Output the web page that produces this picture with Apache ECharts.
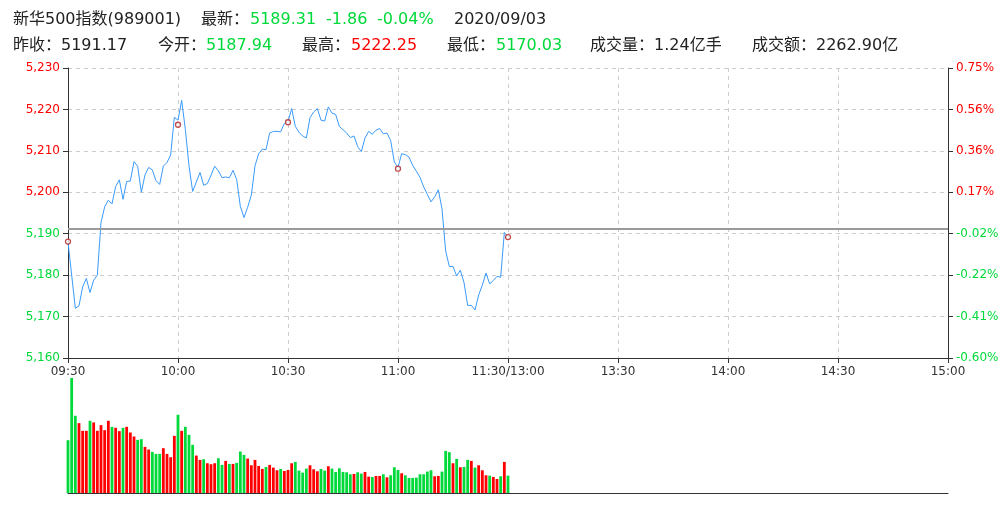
<!DOCTYPE html>
<html>
<head>
<meta charset="utf-8">
<script src="https://cdn.jsdelivr.net/npm/echarts@6/dist/echarts.min.js"></script>
<style>
html,body{margin:0;padding:0;background:#fff;}
#chart{width:1008px;height:516px;}
</style>
</head>
<body>
<div id="chart"></div>
<script>
const prevClose = 5191.17;
const tickLabels = ['09:30','10:00','10:30','11:00','11:30/13:00','13:30','14:00','14:30','15:00'];
// minute closes 09:30 .. 11:30
const prices = [
5188.0,5180.0,5172.0,5172.6,5177.2,5179.2,5175.8,5178.8,5180.0,5192.7,
5196.5,5198.1,5197.2,5201.4,5203.0,5198.3,5202.6,5202.7,5207.4,5206.3,
5200.0,5204.2,5206.0,5205.4,5202.8,5201.9,5206.3,5207.2,5209.0,5218.1,
5217.4,5222.2,5215.2,5206.4,5200.2,5202.5,5204.8,5201.7,5202.1,5204.1,
5206.3,5205.2,5203.5,5203.7,5203.5,5205.3,5203.1,5196.6,5193.9,5196.4,
5199.3,5206.4,5209.3,5210.4,5210.3,5214.3,5214.7,5214.7,5214.6,5216.6,
5217.0,5220.2,5215.9,5214.5,5213.6,5213.1,5218.0,5219.4,5220.2,5217.4,
5217.2,5220.6,5219.1,5218.8,5215.9,5215.1,5214.3,5213.2,5213.6,5211.0,
5209.8,5213.1,5214.7,5214.0,5215.0,5215.4,5214.1,5214.3,5212.5,5207.3,
5206.0,5209.3,5209.1,5208.5,5206.5,5205.1,5203.6,5201.3,5199.5,5197.7,
5198.9,5200.6,5196.0,5185.8,5182.1,5182.1,5179.8,5181.2,5178.2,5172.7,
5172.7,5171.6,5175.2,5177.6,5180.5,5177.9,5178.7,5179.7,5179.5,5190.3,
5189.31
];
// minute volumes (万手)
const volumes = [
158,344,231,209,186,186,216,211,186,203,
188,216,198,195,185,195,198,181,169,159,
161,138,130,123,117,117,134,117,107,171,
234,186,198,174,144,112,99,101,89,86,
89,104,84,96,87,87,90,124,114,103,
83,99,81,72,78,84,76,68,72,66,
69,89,93,67,61,73,83,71,65,72,
67,80,73,63,74,63,62,56,57,62,
58,63,49,48,51,51,56,47,53,77,
69,59,53,45,45,46,56,56,64,68,
50,51,64,126,122,89,102,77,78,99,
96,76,83,68,53,52,48,42,50,93,
52
];
const markerMinutes = [0,30,60,90,120];
const markerPrices = [5188.1,5216.3,5216.9,5205.7,5189.2];

const RED = '#ff0000', GREEN = '#00d93a', DARK = '#222';
const FONT = '"DejaVu Sans","Noto Sans CJK SC",sans-serif';

const header = [
  ['新华500指数(989001)',13,20,DARK],['最新：',201,20,DARK],['5189.31',250,20,GREEN],
  ['-1.86',326,20,GREEN],['-0.04%',377,20,GREEN],['2020/09/03',454,20,DARK],
  ['昨收：',13,46,DARK],['5191.17',61,46,DARK],['今开：',158,46,DARK],['5187.94',206,46,GREEN],
  ['最高：',302,46,DARK],['5222.25',351,46,RED],['最低：',447,46,DARK],['5170.03',496,46,GREEN],
  ['成交量：',590,46,DARK],['1.24亿手',654,46,DARK],['成交额：',752,46,DARK],['2262.90亿',816,46,DARK]
];

const chart = echarts.init(document.getElementById('chart'), null, {renderer:'canvas'});
const fmtComma = v => String(v).replace(/\B(?=(\d{3})+(?!\d))/g, ',');
const pct = v => ((v - prevClose) / prevClose * 100).toFixed(2) + '%';
const sideColor = v => v > prevClose ? RED : GREEN;

chart.setOption({
  animation:false,
  backgroundColor:'#fff',
  graphic: header.map(h => ({
    type:'text', x:h[1], y:h[2],
    style:{text:h[0], fill:h[3], font:'16px ' + FONT, verticalAlign:'middle', textVerticalAlign:'middle'}
  })),
  grid:[
    {left:68, right:60, top:68, height:290},
    {left:68, right:60, top:378, height:115}
  ],
  xAxis:[
    {gridIndex:0, type:'value', min:0, max:240, interval:30,
     axisLine:{onZero:false, lineStyle:{color:'#333'}},
     axisTick:{length:5, lineStyle:{color:'#333'}},
     axisLabel:{formatter:v => tickLabels[Math.round(v/30)], color:'#333', fontSize:12, fontFamily:FONT, margin:8},
     splitLine:{show:true, lineStyle:{color:'#ccc', type:[4,4]}}},
    {gridIndex:1, type:'value', min:0, max:240,
     axisLine:{onZero:false, lineStyle:{color:'#333'}},
     axisTick:{show:false}, axisLabel:{show:false}, splitLine:{show:false}}
  ],
  yAxis:[
    {gridIndex:0, type:'value', min:5160, max:5230, interval:10, position:'left',
     axisLine:{show:true, lineStyle:{color:'#333'}},
     axisTick:{show:true, length:5, lineStyle:{color:'#333'}},
     axisLabel:{formatter:fmtComma, color:sideColor, fontSize:12, fontFamily:FONT, margin:8},
     splitLine:{show:true, lineStyle:{color:'#ccc', type:[4,4]}}},
    {gridIndex:0, type:'value', min:5160, max:5230, interval:10, position:'right',
     axisLine:{show:true, lineStyle:{color:'#333'}},
     axisTick:{show:true, length:5, lineStyle:{color:'#333'}},
     axisLabel:{formatter:pct, color:sideColor, fontSize:12, fontFamily:FONT, margin:8},
     splitLine:{show:false}},
    {gridIndex:1, type:'value', min:0, max:'dataMax', show:false}
  ],
  series:[
    {type:'line', xAxisIndex:0, yAxisIndex:0,
     data:prices.map((p,i) => [i,p]),
     showSymbol:false, symbol:'none',
     lineStyle:{color:'#3a9bfc', width:1},
     markLine:{silent:true, symbol:'none', label:{show:false},
       lineStyle:{color:'#9a9a9a', width:2, type:'solid'},
       data:[{yAxis:prevClose}]}},
    {type:'scatter', xAxisIndex:0, yAxisIndex:0,
     data:markerMinutes.map((m,k) => [m, markerPrices[k]]),
     symbol:'circle', symbolSize:5,
     itemStyle:{color:'#fff', borderColor:'#b02020', borderWidth:1.3}, z:5},
    {type:'bar', xAxisIndex:1, yAxisIndex:2, barWidth:2.8,
     data:volumes.map((v,i) => ({
       value:[i,v],
       itemStyle:{color: prices[i] >= (i ? prices[i-1] : prevClose) ? RED : GREEN}
     }))}
  ]
});
</script>
</body>
</html>
